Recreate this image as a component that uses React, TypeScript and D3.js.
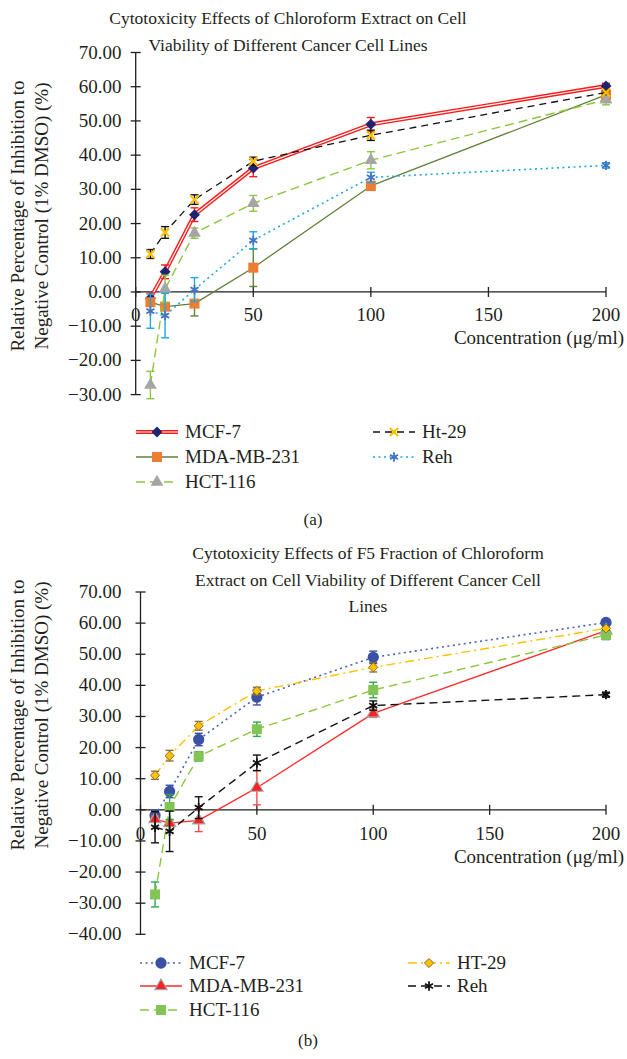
import * as d3 from "d3";
import React from "react";

// concentrations (µg/ml) and mean relative inhibition (%) with error bars
const conc = [6.25, 12.5, 25, 50, 100, 200];
const mcf7 = [-1.8, 5.9, 22.6, 36.2, 49.0, 60.2];
const mcf7Err = [1.5, 2.0, 2.0, 2.5, 2.0, 0.8];
const mda = [-3.0, -4.3, -3.4, 7.1, 31.0, 57.6];
const mdaErr = [1.0, 1.0, 3.6, 5.5, 1.3, 1.0];
const hct = [-27.2, 0.9, 17.2, 25.9, 38.5, 56.2];
const hctErr = [4.0, 4.0, 1.5, 2.3, 2.5, 1.5];
const ht29 = [11.1, 17.4, 27.0, 38.2, 45.8, 58.3];
const ht29Err = [1.3, 1.7, 1.4, 1.2, 1.5, 0.6];
const reh = [-5.6, -6.9, 0.7, 15.1, 33.5, 37.0];
const rehErr = [5.0, 6.5, 3.5, 2.5, 1.5, 0.8];

const xTicks = [0, 50, 100, 150, 200];
const yTicksA = [-30, -20, -10, 0, 10, 20, 30, 40, 50, 60, 70];
const yTicksB = [-40, -30, -20, -10, 0, 10, 20, 30, 40, 50, 60, 70];

const titleA = [
  "Cytotoxicity Effects of Chloroform Extract on Cell",
  "Viability of Different Cancer Cell Lines",
];
const titleB = [
  "Cytotoxicity Effects of F5 Fraction of Chloroform",
  "Extract on Cell Viability of Different Cancer Cell",
  "Lines",
];
const yTitle = ["Relative Percentage of Inhibition to", "Negative Control (1% DMSO) (%)"];
const xTitle = "Concentration (\u03bcg/ml)";

const FONT = "'Liberation Serif', 'DejaVu Serif', serif";

// square diamond (Excel style), size = area
const symbolRhomb = {
  draw(ctx: any, size: number) {
    const r = Math.sqrt(size / 2);
    ctx.moveTo(0, -r);
    ctx.lineTo(r, 0);
    ctx.lineTo(0, r);
    ctx.lineTo(-r, 0);
    ctx.closePath();
  },
};

const symbols = {
  diamond: symbolRhomb,
  square: d3.symbolSquare,
  triangle: d3.symbolTriangle,
  times: d3.symbolTimes,
  asterisk: d3.symbolAsterisk,
  circle: d3.symbolCircle,
};

type Series = {
  name: string;
  values: number[];
  errors: number[];
  stroke: string;
  width: number;
  dash?: string;
  double?: boolean;
  mark: keyof typeof symbols;
  size: number;
  fill: string;
  markStroke?: string;
  markWidth?: number;
  errColor: string;
  col: number;
  row: number;
};

const seriesA: Series[] = [
  { name: "MCF-7", values: mcf7, errors: mcf7Err, stroke: "#ff1a1a", width: 4, double: true, mark: "diamond", size: 60, fill: "#1f2470", errColor: "#ff1a1a", col: 0, row: 0 },
  { name: "MDA-MB-231", values: mda, errors: mdaErr, stroke: "#62803a", width: 1.3, mark: "square", size: 100, fill: "#ed7d31", errColor: "#62803a", col: 0, row: 1 },
  { name: "HCT-116", values: hct, errors: hctErr, stroke: "#8cc63f", width: 1.4, dash: "9,5", mark: "triangle", size: 70, fill: "#a5a5a5", errColor: "#8cc63f", col: 0, row: 2 },
  { name: "Ht-29", values: ht29, errors: ht29Err, stroke: "#111", width: 1.3, dash: "7,5", mark: "times", size: 45, fill: "none", markStroke: "#ffc000", markWidth: 2.2, errColor: "#111", col: 1, row: 0 },
  { name: "Reh", values: reh, errors: rehErr, stroke: "#1ea7e1", width: 1.6, dash: "2,3.5", mark: "asterisk", size: 60, fill: "none", markStroke: "#4472c4", markWidth: 1.8, errColor: "#1ea7e1", col: 1, row: 1 },
];

const seriesB: Series[] = [
  { name: "MCF-7", values: mcf7, errors: mcf7Err, stroke: "#4a62b5", width: 1.6, dash: "2,3.5", mark: "circle", size: 100, fill: "#3a52a4", errColor: "#3a52a4", col: 0, row: 0 },
  { name: "MDA-MB-231", values: mda, errors: mdaErr, stroke: "#ff2a2a", width: 1.3, mark: "triangle", size: 65, fill: "#ff2020", markStroke: "#a5a5a5", markWidth: 1.2, errColor: "#ff4a4a", col: 0, row: 1 },
  { name: "HCT-116", values: hct, errors: hctErr, stroke: "#8cc63f", width: 1.4, dash: "9,5", mark: "square", size: 100, fill: "#82c455", errColor: "#2aa84a", col: 0, row: 2 },
  { name: "HT-29", values: ht29, errors: ht29Err, stroke: "#ffc000", width: 1.4, dash: "9,4,2,4", mark: "diamond", size: 42, fill: "#ffc000", markStroke: "#8c6d31", markWidth: 1, errColor: "#8c6d31", col: 1, row: 0 },
  { name: "Reh", values: reh, errors: rehErr, stroke: "#111", width: 1.4, dash: "8,5", mark: "asterisk", size: 60, fill: "none", markStroke: "#111", markWidth: 1.8, errColor: "#111", col: 1, row: 1 },
];

type PanelCfg = {
  series: Series[];
  yTicks: number[];
  yDomain: [number, number];
  yRange: [number, number];
  xRange: [number, number];
  title: string[];
  titleX: number;
  titleY: number;
  yTitleCenter: number;
  xLabelY: number;
  xTitleY: number;
  legendRows: number[];
  legendCols: number[];
  caption: string;
  captionX: number;
  captionY: number;
};

function Marker({ s, x, y }: { s: Series; x: number; y: number }) {
  const d = d3.symbol(symbols[s.mark] as any, s.size)() || "";
  return (
    <path
      d={d}
      transform={`translate(${x},${y})`}
      fill={s.fill}
      stroke={s.markStroke || "none"}
      strokeWidth={s.markWidth || 0}
    />
  );
}

function SeriesLine({ s, d }: { s: Series; d: string }) {
  if (s.double) {
    return (
      <g>
        <path d={d} fill="none" stroke={s.stroke} strokeWidth={s.width} strokeLinejoin="round" />
        <path d={d} fill="none" stroke="#fff" strokeWidth={1.2} strokeLinejoin="round" />
      </g>
    );
  }
  return <path d={d} fill="none" stroke={s.stroke} strokeWidth={s.width} strokeDasharray={s.dash} strokeLinejoin="round" />;
}

function Panel(c: PanelCfg) {
  const x = d3.scaleLinear().domain([0, 200]).range(c.xRange);
  const y = d3.scaleLinear().domain(c.yDomain).range(c.yRange);
  const y0 = y(0);
  const ax = x(0);
  const line = d3
    .line<number>()
    .x((_, i) => x(conc[i]))
    .y((v) => y(v));

  return (
    <g fontFamily={FONT} fill="#231f20">
      {c.title.map((t, i) => (
        <text key={i} x={c.titleX} y={c.titleY + i * 26.5} textAnchor="middle" fontSize={17.5}>
          {t}
        </text>
      ))}

      {/* y axis */}
      <line x1={ax} x2={ax} y1={c.yRange[1]} y2={c.yRange[0]} stroke="#231f20" strokeWidth={1.3} />
      {c.yTicks.map((t) => (
        <g key={t}>
          <line x1={ax - 5} x2={ax + 5} y1={y(t)} y2={y(t)} stroke="#231f20" strokeWidth={1.3} />
          <text x={121.5} y={y(t) + 6} textAnchor="end" fontSize={19}>
            {(t < 0 ? "\u2212" : "") + Math.abs(t).toFixed(2)}
          </text>
        </g>
      ))}
      <g transform={`translate(0,${c.yTitleCenter}) rotate(-90)`}>
        <text x={0} y={24} textAnchor="middle" fontSize={19}>{yTitle[0]}</text>
        <text x={0} y={48} textAnchor="middle" fontSize={19}>{yTitle[1]}</text>
      </g>

      {/* x axis at zero */}
      <line x1={ax} x2={x(200)} y1={y0} y2={y0} stroke="#231f20" strokeWidth={1.3} />
      {xTicks.map((t) => (
        <g key={t}>
          <line x1={x(t)} x2={x(t)} y1={y0 - 5} y2={y0 + 5} stroke="#231f20" strokeWidth={1.3} />
          <text x={x(t)} y={c.xLabelY} textAnchor="middle" fontSize={19}>{t}</text>
        </g>
      ))}
      <text x={624} y={c.xTitleY} textAnchor="end" fontSize={19}>{xTitle}</text>

      {/* series */}
      {c.series.map((s) => (
        <g key={s.name}>
          <SeriesLine s={s} d={line(s.values) || ""} />
          {s.values.map((v, i) => {
            const px = x(conc[i]);
            const lo = y(v - s.errors[i]);
            const hi = y(v + s.errors[i]);
            return (
              <g key={i} stroke={s.errColor} strokeWidth={1.4}>
                <line x1={px} x2={px} y1={lo} y2={hi} />
                <line x1={px - 4} x2={px + 4} y1={lo} y2={lo} />
                <line x1={px - 4} x2={px + 4} y1={hi} y2={hi} />
              </g>
            );
          })}
          {s.values.map((v, i) => (
            <Marker key={i} s={s} x={x(conc[i])} y={y(v)} />
          ))}
        </g>
      ))}

      {/* legend */}
      {c.series.map((s) => {
        const lx = c.legendCols[s.col];
        const ly = c.legendRows[s.row];
        const d = `M${lx},${ly}L${lx + 42},${ly}`;
        return (
          <g key={s.name}>
            <SeriesLine s={s} d={d} />
            <Marker s={s} x={lx + 21} y={ly} />
            <text x={lx + 49} y={ly + 6} fontSize={19}>{s.name}</text>
          </g>
        );
      })}

      <text x={c.captionX} y={c.captionY} textAnchor="middle" fontSize={17}>{c.caption}</text>
    </g>
  );
}

export default function App() {
  return (
    <svg width={627} height={1059} style={{ display: "block", position: "absolute", left: 0, top: 0, background: "#fff" }}>
      <Panel
        series={seriesA}
        yTicks={yTicksA}
        yDomain={[-30, 70]}
        yRange={[394.6, 52.5]}
        xRange={[135.7, 606]}
        title={titleA}
        titleX={288}
        titleY={24}
        yTitleCenter={216}
        xLabelY={321}
        xTitleY={344}
        legendRows={[432, 457, 482]}
        legendCols={[136, 373]}
        caption="(a)"
        captionX={313}
        captionY={525}
      />
      <Panel
        series={seriesB}
        yTicks={yTicksB}
        yDomain={[-40, 70]}
        yRange={[934.3, 592]}
        xRange={[140.5, 606]}
        title={titleB}
        titleX={368}
        titleY={559}
        yTitleCenter={715}
        xLabelY={840}
        xTitleY={863}
        legendRows={[963, 986, 1010]}
        legendCols={[140, 408]}
        caption="(b)"
        captionX={308}
        captionY={1046}
      />
    </svg>
  );
}
